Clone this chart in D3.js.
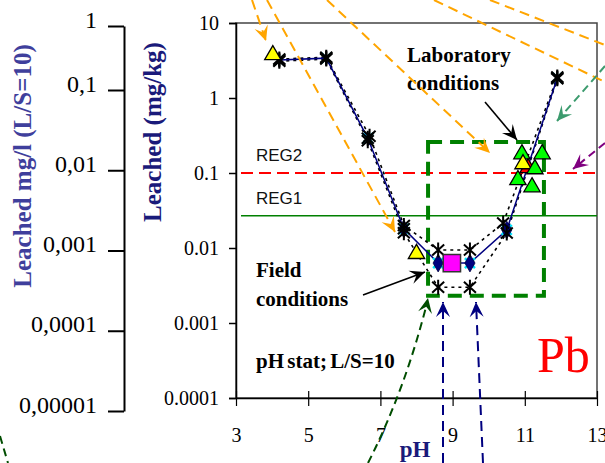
<!DOCTYPE html>
<html>
<head>
<meta charset="utf-8">
<script src="https://cdn.jsdelivr.net/npm/d3@7"></script>
<style>
  body { margin: 0; background: #fff; }
  svg { display: block; }
</style>
</head>
<body>
<svg id="chart" width="605" height="463"></svg>
<script>
// Pb, pH stat leaching test, L/S=10
var ph = [4.2, 5.5, 6.65, 7.65, 8.6, 9.48, 10.5, 11.9]
var leachedMean = [3.2, 3.4, 0.29, 0.018, 0.0063, 0.0063, 0.0174, 1.85]
var phHigh = [4.2, 5.5, 6.7, 7.65, 8.6, 9.48, 10.4, 11.9]
var leachedHigh = [3.3, 3.5, 0.31, 0.02, 0.0094, 0.0094, 0.0215, 1.9]
var leachedLow = [3.1, 3.3, 0.27, 0.016, 0.003, 0.003, 0.0158, 1.8]

// field samples (triangles + square)
var fieldPh = [4.02, 8.0]
var fieldLeached = [3.98, 0.0089]
var fieldSquarePh = [8.98]
var fieldSquareLeached = [0.0063]

// laboratory samples
var labPh = [10.92, 11.48, 11.09, 10.95, 11.28, 10.81, 11.2]
var labLeached = [0.19, 0.19, 0.124, 0.14, 0.12, 0.086, 0.069]
var labColor = ['#00ff00', '#00ff00', '#ff0000', '#ffff00', '#00ff00', '#00ff00', '#00ff00']

var regNames = ['REG2', 'REG1']
var regValues = [0.1, 0.027]

var xTicks = [3, 5, 7, 9, 11, 13]
var yTicks = [0.0001, 0.001, 0.01, 0.1, 1, 10]
var yTickLabels = ['0.0001', '0.001', '0.01', '0.1', '1', '10']
var y2Ticks = [0.00001, 0.0001, 0.001, 0.01, 0.1, 1]
var y2TickLabels = ['0,00001', '0,0001', '0,001', '0,01', '0,1', '1']

// boxes around the two groups (pH range, leached range)
var fieldBoxPh = [8.32, 11.53]
var fieldBoxLeached = [0.0023, 0.26]

var svg = d3.select('#chart')
var serif = 'Liberation Serif, Times New Roman, serif'
var sans = 'Liberation Sans, Arial, sans-serif'

var x = d3.scaleLinear().domain([3, 13]).range([236, 597])
var y = d3.scaleLog().domain([0.0001, 10]).range([398, 23])
// second axis (mg/l), drawn with its own odd spacing as in the original figure
var y2 = d3.scaleLog().domain([0.00001, 0.1, 1]).range([411, 90, 26])

// plot frame
svg.append('rect')
  .attr('x', x(3)).attr('y', y(10))
  .attr('width', x(13) - x(3)).attr('height', y(0.0001) - y(10))
  .attr('fill', 'none').attr('stroke', '#444').attr('stroke-width', 1.5)

// regulation lines
var regColor = ['#ff0000', '#008000']
regValues.forEach(function(v, i) {
  svg.append('line')
    .attr('x1', x(3) + 5).attr('x2', x(13))
    .attr('y1', y(v)).attr('y2', y(v))
    .attr('stroke', regColor[i])
    .attr('stroke-width', i == 0 ? 2 : 1.5)
    .attr('stroke-dasharray', i == 0 ? '12,6' : null)
  svg.append('text')
    .attr('x', x(3) + 20).attr('y', y(v) - 12)
    .attr('font-family', sans).attr('font-size', 17)
    .attr('fill', '#111')
    .text(regNames[i])
})

// axes
var yAxis = svg.append('g').attr('transform', 'translate(' + x(3) + ',0)')
  .call(d3.axisLeft(y).tickValues(yTicks)
    .tickFormat(function(d, i) { return yTickLabels[i] })
    .tickSize(7).tickPadding(10))
yAxis.select('.domain').attr('stroke', '#000').attr('stroke-width', 1.5)
yAxis.selectAll('line').attr('stroke-width', 1.5)
yAxis.selectAll('text').attr('font-family', serif).attr('font-size', 20).attr('fill', '#000')

var xAxis = svg.append('g').attr('transform', 'translate(0,' + y(0.0001) + ')')
  .call(d3.axisBottom(x).tickValues(xTicks).tickSize(8).tickSizeOuter(0))
xAxis.select('.domain').attr('stroke', '#000').attr('stroke-width', 1.5)
xAxis.selectAll('.tick line').attr('y1', -7).attr('stroke-width', 1.2)
xAxis.selectAll('text').attr('dy', null).attr('y', 44)
  .attr('font-family', serif).attr('font-size', 20).attr('fill', '#000')

var y2Axis = svg.append('g').attr('transform', 'translate(124,0)')
  .call(d3.axisLeft(y2).tickValues(y2Ticks)
    .tickFormat(function(d, i) { return y2TickLabels[i] })
    .tickSize(16).tickSizeOuter(0).tickPadding(11))
y2Axis.select('.domain').attr('stroke', '#000').attr('stroke-width', 2)
y2Axis.selectAll('line').attr('stroke-width', 2)
y2Axis.selectAll('text').attr('dy', '0.05em')
  .attr('font-family', serif).attr('font-size', 24).attr('fill', '#000')

// axis titles
svg.append('text')
  .attr('transform', 'translate(31,166) rotate(-90)')
  .attr('text-anchor', 'middle')
  .attr('font-family', serif).attr('font-weight', 'bold').attr('font-size', 25)
  .attr('fill', '#3f3f9c')
  .text('Leached mg/l (L/S=10)')
svg.append('text')
  .attr('transform', 'translate(161,132) rotate(-90)')
  .attr('text-anchor', 'middle')
  .attr('font-family', serif).attr('font-weight', 'bold').attr('font-size', 25)
  .attr('fill', '#1a1a7a')
  .text('Leached (mg/kg)')
svg.append('text')
  .attr('x', 415).attr('y', 457)
  .attr('text-anchor', 'middle')
  .attr('font-family', serif).attr('font-weight', 'bold').attr('font-size', 23)
  .attr('fill', '#1a1a7a')
  .text('pH')

// green dashed box
svg.append('rect')
  .attr('x', x(fieldBoxPh[0])).attr('y', y(fieldBoxLeached[1]))
  .attr('width', x(fieldBoxPh[1]) - x(fieldBoxPh[0]))
  .attr('height', y(fieldBoxLeached[0]) - y(fieldBoxLeached[1]))
  .attr('fill', 'none').attr('stroke', '#008000')
  .attr('stroke-width', 4).attr('stroke-dasharray', '14,8')

// lines
var meanData = ph.map(function(p, i) { return [p, leachedMean[i]] })
var highData = phHigh.map(function(p, i) { return [p, leachedHigh[i]] })
var lowData = ph.map(function(p, i) { return [p, leachedLow[i]] })
var line = d3.line().x(function(d) { return x(d[0]) }).y(function(d) { return y(d[1]) })

;[highData, lowData].forEach(function(data) {
  svg.append('path').datum(data).attr('d', line)
    .attr('fill', 'none').attr('stroke', '#000')
    .attr('stroke-width', 1.6).attr('stroke-dasharray', '3,4')
})
svg.append('path').datum(meanData).attr('d', line)
  .attr('fill', 'none').attr('stroke', '#000080').attr('stroke-width', 1.5)

// markers
var starPath = 'M0,-7.5V7.5M-6,-5.5L6,5.5M-6,5.5L6,-5.5'
var crossPath = 'M-5,-5L5,5M-5,5L5,-5'

svg.selectAll('.cyan').data(meanData).enter().append('path')
  .attr('d', crossPath)
  .attr('transform', function(d) { return 'translate(' + x(d[0]) + ',' + y(d[1]) + ')' })
  .attr('stroke', '#00e5ff').attr('stroke-width', 2.5)

svg.selectAll('.diamond').data(meanData.slice(3, 7)).enter().append('path')
  .attr('d', d3.symbol(d3.symbolDiamond, 90))
  .attr('transform', function(d) { return 'translate(' + x(d[0]) + ',' + y(d[1]) + ')' })
  .attr('fill', '#000080').attr('stroke', '#000040').attr('stroke-width', 0.8)

var starData = highData.concat(lowData)
  .concat([meanData[0], meanData[1], meanData[2], meanData[3], meanData[7]])
svg.selectAll('.star').data(starData).enter().append('path')
  .attr('d', starPath)
  .attr('transform', function(d) { return 'translate(' + x(d[0]) + ',' + y(d[1]) + ')' })
  .attr('stroke', '#000').attr('stroke-width', 2)

svg.selectAll('.sq').data(fieldSquarePh).enter().append('path')
  .attr('d', d3.symbol(d3.symbolSquare, 300))
  .attr('transform', function(d, i) { return 'translate(' + x(d) + ',' + y(fieldSquareLeached[i]) + ')' })
  .attr('fill', '#ff00ff').attr('stroke', '#333').attr('stroke-width', 1.5)

var tri = d3.symbol(d3.symbolTriangle, 115)
svg.selectAll('.ftri').data(fieldPh).enter().append('path')
  .attr('d', tri)
  .attr('transform', function(d, i) { return 'translate(' + x(d) + ',' + (y(fieldLeached[i]) + 2) + ')' })
  .attr('fill', '#ffff00').attr('stroke', '#000').attr('stroke-width', 1.3)

svg.selectAll('.ltri').data(labPh).enter().append('path')
  .attr('d', tri)
  .attr('transform', function(d, i) { return 'translate(' + x(d) + ',' + (y(labLeached[i]) + 2) + ')' })
  .attr('fill', function(d, i) { return labColor[i] })
  .attr('stroke', '#000').attr('stroke-width', 1.3)

// annotation text
function label(txt, lx, ly, size, color, weight) {
  return svg.append('text').attr('x', lx).attr('y', ly)
    .attr('font-family', serif).attr('font-size', size)
    .attr('font-weight', weight || 'bold').attr('fill', color || '#000')
    .text(txt)
}
label('Laboratory', 407, 62, 21)
label('conditions', 407, 90, 21)
label('Field', 256, 277, 21)
label('conditions', 256, 306, 21)
label('pH stat; L/S=10', 256, 368, 21).attr('word-spacing', -2)
label('Pb', 537, 372, 50, '#ff0000', 'normal')

// pointer arrows (figure decoration, pixel positions)
var pointers = [
  { from: [252, 0], to: [266, 41], color: '#ffa500', dash: '10,6' },
  { from: [267, 0], to: [395, 232], color: '#ffa500', dash: '10,6' },
  { from: [327, 0], to: [490, 153], color: '#ffa500', dash: '10,6' },
  { from: [434, 0], to: [605, 82], color: '#ffa500', dash: '10,6', open: true },
  { from: [490, 0], to: [605, 45], color: '#ffa500', dash: '10,6', open: true },
  { from: [605, 66], to: [557, 121], color: '#3c9b6e', dash: '8,5' },
  { from: [605, 143], to: [573, 169], color: '#800080', dash: '8,5' },
  { from: [443, 463], to: [443, 302], color: '#000080', dash: '10,6' },
  { from: [483, 463], to: [476, 302], color: '#000080', dash: '10,6' },
  { from: [485, 102], to: [517, 140], color: '#000', dash: null },
  { from: [363, 295], to: [425, 272], color: '#000', dash: null },
  { from: [0, 436], to: [8, 463], color: '#004d00', dash: '8,5', open: true }
]

function arrowHead(tip, from, color) {
  var a = Math.atan2(tip[1] - from[1], tip[0] - from[0])
  var len = 15, half = 7, notch = 9
  var pts = [[0, 0], [-len, -half], [-notch, 0], [-len, half]].map(function(p) {
    return [tip[0] + p[0] * Math.cos(a) - p[1] * Math.sin(a),
            tip[1] + p[0] * Math.sin(a) + p[1] * Math.cos(a)]
  })
  svg.append('path').attr('d', 'M' + pts.join('L') + 'Z').attr('fill', color)
}

pointers.forEach(function(p) {
  svg.append('line')
    .attr('x1', p.from[0]).attr('y1', p.from[1])
    .attr('x2', p.to[0]).attr('y2', p.to[1])
    .attr('stroke', p.color).attr('stroke-width', p.color == '#000' ? 1.6 : 2)
    .attr('stroke-dasharray', p.dash)
  if (!p.open) arrowHead(p.to, p.from, p.color)
})

// curved dark green pointer from below
svg.append('path')
  .attr('d', 'M368,463 Q405,390 427,303')
  .attr('fill', 'none').attr('stroke', '#004d00')
  .attr('stroke-width', 2).attr('stroke-dasharray', '8,5')
arrowHead([428, 298], [424, 318], '#004d00')
</script>
</body>
</html>
